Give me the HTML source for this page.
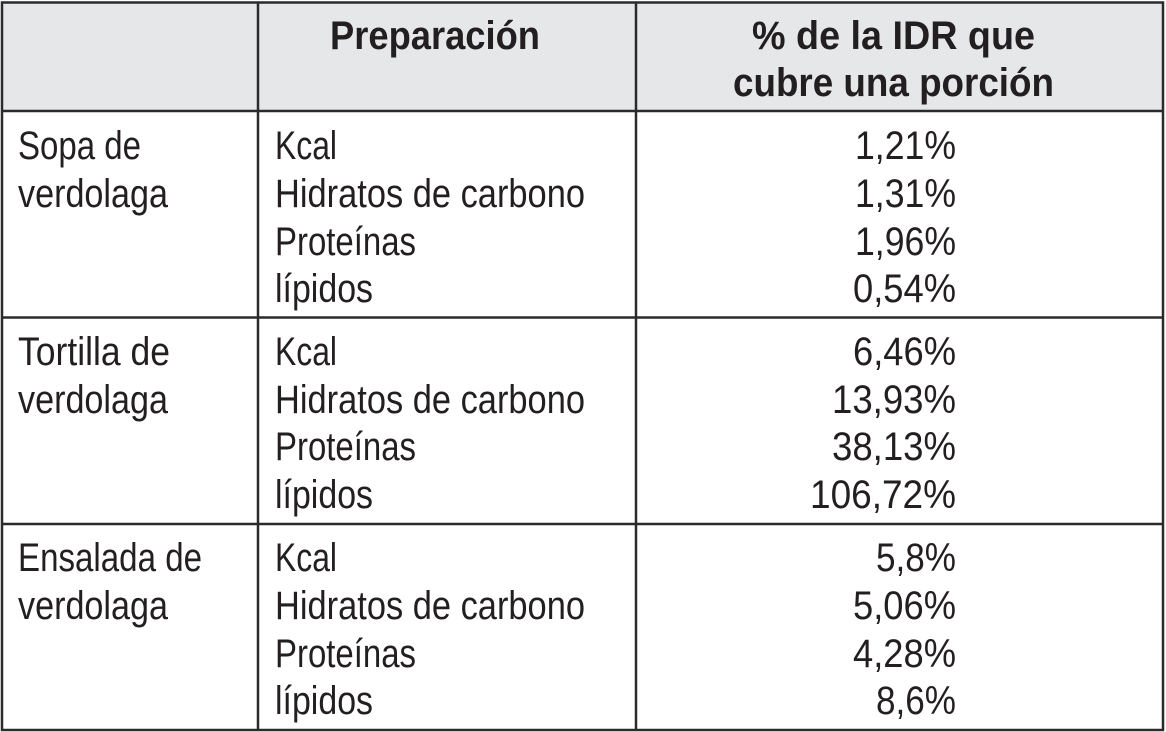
<!DOCTYPE html>
<html><head><meta charset="utf-8"><style>
html,body{margin:0;padding:0;background:#fff;}
svg{display:block;}
text{font-family:"Liberation Sans",sans-serif;fill:#231f20;font-size:40px;}
.b{font-weight:bold;}
</style></head><body>
<svg width="1166" height="732" viewBox="0 0 1166 732">
<rect x="2" y="3" width="1161" height="108" fill="#e6e7e9"/>
<g stroke="#2b2b2b" stroke-width="2.5" fill="none">
<rect x="2" y="2.5" width="1161" height="727.5"/>
<line x1="258" y1="2" x2="258" y2="730"/>
<line x1="636" y1="2" x2="636" y2="730"/>
<line x1="2" y1="111" x2="1163" y2="111"/>
<line x1="2" y1="317.5" x2="1163" y2="317.5"/>
<line x1="2" y1="524" x2="1163" y2="524"/>
</g>
<g>
<text class="b" x="330" y="49" textLength="210" lengthAdjust="spacingAndGlyphs">Preparación</text>
<text class="b" x="752" y="49" textLength="283" lengthAdjust="spacingAndGlyphs">% de la IDR que</text>
<text class="b" x="733" y="96" textLength="321" lengthAdjust="spacingAndGlyphs">cubre una porción</text>
</g>
<g>
<text x="18" y="159" textLength="123" lengthAdjust="spacingAndGlyphs">Sopa de</text>
<text x="18" y="207" textLength="150" lengthAdjust="spacingAndGlyphs">verdolaga</text>
<text x="275" y="159" textLength="62" lengthAdjust="spacingAndGlyphs">Kcal</text>
<text x="275" y="207" textLength="310" lengthAdjust="spacingAndGlyphs">Hidratos de carbono</text>
<text x="275" y="255" textLength="141" lengthAdjust="spacingAndGlyphs">Proteínas</text>
<text x="275" y="302" textLength="98" lengthAdjust="spacingAndGlyphs">lípidos</text>
<text x="855" y="159" textLength="101" lengthAdjust="spacingAndGlyphs">1,21%</text>
<text x="855" y="207" textLength="101" lengthAdjust="spacingAndGlyphs">1,31%</text>
<text x="855" y="255" textLength="101" lengthAdjust="spacingAndGlyphs">1,96%</text>
<text x="853" y="302" textLength="103" lengthAdjust="spacingAndGlyphs">0,54%</text>
</g>
<g>
<text x="18" y="365" textLength="152" lengthAdjust="spacingAndGlyphs">Tortilla de</text>
<text x="18" y="413" textLength="150" lengthAdjust="spacingAndGlyphs">verdolaga</text>
<text x="275" y="365" textLength="62" lengthAdjust="spacingAndGlyphs">Kcal</text>
<text x="275" y="413" textLength="310" lengthAdjust="spacingAndGlyphs">Hidratos de carbono</text>
<text x="275" y="460" textLength="141" lengthAdjust="spacingAndGlyphs">Proteínas</text>
<text x="275" y="508" textLength="98" lengthAdjust="spacingAndGlyphs">lípidos</text>
<text x="853" y="365" textLength="103" lengthAdjust="spacingAndGlyphs">6,46%</text>
<text x="832" y="413" textLength="124" lengthAdjust="spacingAndGlyphs">13,93%</text>
<text x="832" y="460" textLength="124" lengthAdjust="spacingAndGlyphs">38,13%</text>
<text x="810" y="508" textLength="146" lengthAdjust="spacingAndGlyphs">106,72%</text>
</g>
<g>
<text x="18" y="571" textLength="184" lengthAdjust="spacingAndGlyphs">Ensalada de</text>
<text x="18" y="619" textLength="150" lengthAdjust="spacingAndGlyphs">verdolaga</text>
<text x="275" y="571" textLength="62" lengthAdjust="spacingAndGlyphs">Kcal</text>
<text x="275" y="619" textLength="310" lengthAdjust="spacingAndGlyphs">Hidratos de carbono</text>
<text x="275" y="667" textLength="141" lengthAdjust="spacingAndGlyphs">Proteínas</text>
<text x="275" y="714" textLength="98" lengthAdjust="spacingAndGlyphs">lípidos</text>
<text x="876" y="571" textLength="80" lengthAdjust="spacingAndGlyphs">5,8%</text>
<text x="853" y="619" textLength="103" lengthAdjust="spacingAndGlyphs">5,06%</text>
<text x="853" y="667" textLength="103" lengthAdjust="spacingAndGlyphs">4,28%</text>
<text x="876" y="714" textLength="80" lengthAdjust="spacingAndGlyphs">8,6%</text>
</g>
</svg>
</body></html>
